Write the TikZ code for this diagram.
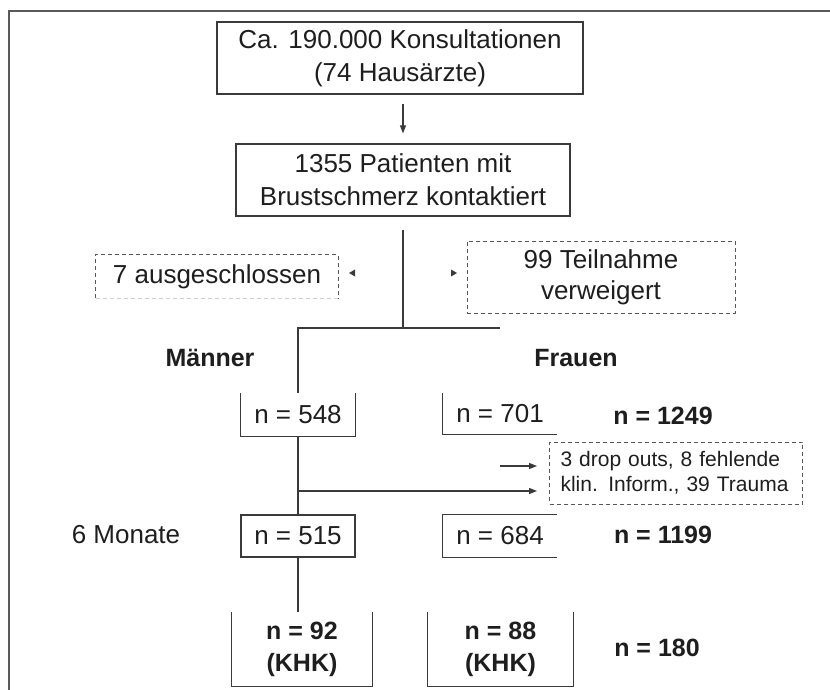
\documentclass[tikz,border=0pt]{standalone}
\usepackage{fontspec}
\setmainfont{Liberation Sans}
\usetikzlibrary{arrows.meta}
\definecolor{ln}{HTML}{3A3A3A}
\definecolor{fr}{HTML}{5A5A5A}
\definecolor{tx}{HTML}{1E1E1E}
\begin{document}
\begin{tikzpicture}[x=1pt,y=-1pt,
  every node/.style={text=tx, inner sep=0pt, align=center, font=\fontsize{26}{33}\selectfont},
  sbox/.style={draw=ln, line width=1.2pt},
  dbox/.style={draw=ln!85, line width=1pt, dash pattern=on 4pt off 3pt},
  bld/.style={font=\fontsize{25}{32}\selectfont\bfseries},
  conn/.style={draw=ln, line width=1.2pt},
  arr/.style={conn, -{Triangle[length=8pt,width=6pt]}}]
\useasboundingbox (0,0) rectangle (830,690);
% frame (cropped)
\draw[fr, line width=2pt] (9,690) -- (9,11) -- (830,11);

% top boxes
\node[sbox, minimum width=366pt, minimum height=72pt] (kons) at (400,58)
  {Ca. 190.000 Konsultationen\\(74 Hausärzte)};
\node[sbox, minimum width=334pt, minimum height=72pt] (pat) at (403,180)
  {1355 Patienten mit\\Brustschmerz kontaktiert};

% excluded boxes
\node[minimum width=242pt, minimum height=43pt] (excl) at (217,276.5) {7 ausgeschlossen};
\draw[dbox] (excl.south west) -- (excl.north west) -- (excl.north east) -- (excl.south east);
\draw[dbox, draw=ln!25] (excl.south west) -- (excl.south east);
\node[dbox, minimum width=268pt, minimum height=72pt, font=\fontsize{26}{31}\selectfont] (refu) at (601,277)
  {99 Teilnahme\\verweigert};
\fill[ln] (355,269.5) -- (349,273) -- (355,276.5) -- cycle;
\fill[ln] (451,269.5) -- (457,273) -- (451,276.5) -- cycle;

% headers
\node[bld] (maen) at (210,358) {Männer};
\node[bld] (frau) at (576,358) {Frauen};

% baseline row
\node[minimum width=114pt, minimum height=43pt] (n548) at (298,414.5) {n = 548};
\draw[conn] (n548.north west) -- (n548.south west) -- (n548.south east) -- (n548.north east);
\node[minimum width=114pt, minimum height=41pt] (n701) at (500,413.5) {n = 701};
\draw[conn] (n701.north west) -- (n701.south west) -- (n701.south east);
\node[bld] (n1249) at (663,416) {n = 1249};

% drop outs
\node[dbox, anchor=west, align=left, inner xsep=11pt, text width=231pt, minimum height=62pt,
  font=\fontsize{21}{25}\selectfont] (drop) at (549,473)
  {3 drop outs, 8 fehlende\\klin. Inform., 39 Trauma};

% 6 months row
\node (mon) at (126,535) {6 Monate};
\node[sbox, minimum width=114pt, minimum height=42pt] (n515) at (298,536) {n = 515};
\node[minimum width=114pt, minimum height=42pt] (n684) at (500,536) {n = 684};
\draw[conn] (n684.north east) -- (n684.north west) -- (n684.south west) -- (n684.south east);
\node[bld] (n1199) at (663,535) {n = 1199};

% KHK row
\node[bld, minimum width=140pt, minimum height=74pt] (n92) at (302,649) {n = 92\\(KHK)};
\draw[conn] (n92.north west) -- (n92.south west) -- (n92.south east) -- (n92.north east);
\node[bld, minimum width=145pt, minimum height=74pt] (n88) at (500.5,649) {n = 88\\(KHK)};
\draw[conn] (n88.north west) -- (n88.south west) -- (n88.south east) -- (n88.north east);
\node[bld] (n180) at (657,648) {n = 180};

% connectors
\draw[arr, shorten <=9pt, shorten >=10pt] (kons.south -| pat.north) -- (pat.north);
\coordinate (split) at (403,328);
\coordinate (fend) at (500,328);
\draw[conn, shorten <=13pt] (pat.south) -- (split);
\draw[conn] (fend) -- (n548.north |- split) -- (n548.north);
\draw[conn] (n548.south) -- (n515.north);
\coordinate (br) at (298,491);
\coordinate (sa) at (500,466);
\draw[arr, shorten >=12pt] (br) -- (drop.west |- br);
\draw[arr, shorten >=12pt] (sa) -- (drop.west |- sa);
\draw[conn] (n515.south) -- (n515.south |- n92.north);
\end{tikzpicture}
\end{document}
